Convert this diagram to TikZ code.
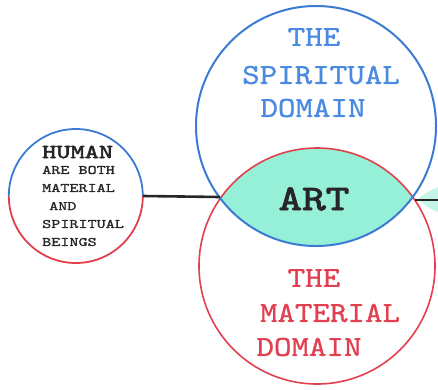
\documentclass[tikz,border=0pt]{standalone}
\usepackage{fontspec}
\newfontfamily\thickmono{lmmono10-regular}[Extension=.otf, FakeBold=0.9]
\newfontfamily\heavymono{lmmono10-regular}[Extension=.otf, FakeBold=2.2]
\newfontfamily\smallmono{lmmono10-regular}[Extension=.otf, FakeBold=1.2]
\definecolor{spblue}{HTML}{3C7BD4}
\definecolor{sptext}{HTML}{4A8AE0}
\definecolor{matred}{HTML}{E2404C}
\definecolor{mattext}{HTML}{E04050}
\definecolor{artteal}{HTML}{96F0D8}
\definecolor{paleteal}{HTML}{C4F5E8}
\definecolor{inkc}{HTML}{262626}
\newcommand{\wide}[2]{\scalebox{#1}[1]{#2}}
\begin{document}
\begin{tikzpicture}[x=1pt,y=-1pt,
  bigcircle/.style={circle, inner sep=0pt},
  conn/.style={draw=inkc, line width=2.6pt},
  domtext/.style={inner sep=0pt, font=\thickmono\fontsize{29}{29}\selectfont},
  humtext/.style={inner sep=0pt, anchor=west, text=inkc, font=\smallmono\fontsize{13}{13}\selectfont},
]
\useasboundingbox (0,0) rectangle (438,389);
% circles as nodes
\node[bigcircle, minimum size=240pt] (spirit) at (316,126) {};
\node[bigcircle, minimum size=236pt] (matter) at (317,266) {};
\node[bigcircle, minimum size=134pt] (human) at (76,196) {};
% lens fill
\begin{scope}
  \clip (spirit.center) circle[radius=120pt];
  \fill[artteal] (matter.center) circle[radius=118pt];
\end{scope}
% pale teal bit cut off at the right edge
\fill[paleteal] (418,199) .. controls (424,194) and (430,190) .. (438,187)
  -- (438,212) .. controls (430,209) and (424,205) .. (418,199) -- cycle;
% circle outlines
\draw[matred, line width=1.6pt] (matter.center) circle[radius=118pt];
\draw[spblue, line width=2pt] (spirit.center) circle[radius=120pt];
\draw[spblue, line width=1.8pt] (human.west) arc[start angle=180, end angle=0, radius=67pt];
\draw[matred, line width=1.8pt] (human.west) arc[start angle=180, end angle=360, radius=67pt];
% connectors
\coordinate (artL) at (220,197);
\coordinate (artR) at (415,200);
\coordinate (edgeR) at (438,200);
\draw[conn] (human.east) -- (artL);
\draw[conn] (artR) -- (edgeR);
% spiritual text
\node[domtext, text=sptext] (s1) at (314,37) {\wide{1.15}{THE}};
\node[domtext, text=sptext] (s2) at (321,75) {\wide{1.15}{SPIRITUAL}};
\node[domtext, text=sptext] (s3) at (313,108) {\wide{1.15}{DOMAIN}};
% art
\node[inner sep=0pt, text=inkc, font=\heavymono\fontsize{36}{36}\selectfont] (art) at (314,199) {\wide{1.25}{ART}};
% material text
\node[domtext, text=mattext] (m1) at (314,278) {\wide{1.15}{THE}};
\node[domtext, text=mattext] (m2) at (330,313) {\wide{1.15}{MATERIAL}};
\node[domtext, text=mattext] (m3) at (309,347) {\wide{1.15}{DOMAIN}};
% human text
\node[humtext, font=\heavymono\fontsize{20}{20}\selectfont] (h1) at (42,152) {\wide{1.35}{HUMAN}};
\node[humtext] (h2) at (42,170) {\wide{1.33}{ARE BOTH}};
\node[humtext] (h3) at (42,188) {\wide{1.33}{MATERIAL}};
\node[humtext] (h4) at (49,206) {\wide{1.33}{AND}};
\node[humtext] (h5) at (42,224) {\wide{1.33}{SPIRITUAL}};
\node[humtext] (h6) at (42,242) {\wide{1.33}{BEINGS}};
\end{tikzpicture}
\end{document}
